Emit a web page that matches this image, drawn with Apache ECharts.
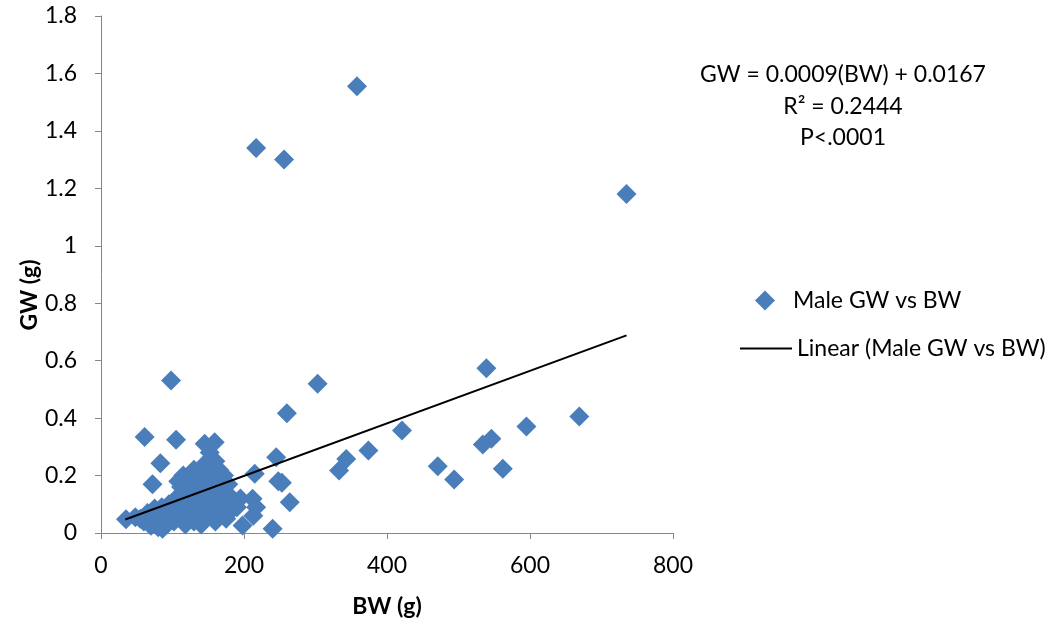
<!DOCTYPE html>
<html>
<head>
<meta charset="utf-8">
<script src="https://cdn.jsdelivr.net/npm/echarts@6/dist/echarts.min.js"></script>
<style>html,body{margin:0;padding:0;background:#fff}#c{width:1061px;height:626px}</style>
</head>
<body>
<div id="c"></div>
<script>
// Body weight (g) and gonad weight (g) per male
const bwValues = [
  35,48,55,60,65,68,72,75,78,80,85,88,90,92,95,98,100,102,105,108,110,112,115,118,120,122,125,127,130,130,
  133,135,138,140,142,145,145,148,150,152,153,155,158,160,162,163,165,167,170,172,175,178,180,183,185,190,195,
  115,108,128,86,70,118,140,160,175,
  98,61,105,83,72,145,159,303,260,245,215,248,253,264,212,240,198,217,213,333,
  539,669,595,546,534,421,374,343,471,494,562,358,217,256,735
];
const gwValues = [
  0.048,0.055,0.05,0.04,0.07,0.03,0.06,0.085,0.04,0.02,0.09,0.05,0.07,0.03,0.1,0.06,0.08,0.04,0.12,0.09,0.06,0.16,0.11,0.05,0.14,0.08,0.19,0.12,0.04,0.22,
  0.16,0.1,0.07,0.2,0.13,0.24,0.05,0.17,0.1,0.28,0.21,0.14,0.08,0.25,0.18,0.12,0.22,0.06,0.15,0.2,0.1,0.17,0.13,0.08,0.11,0.09,0.12,
  0.2,0.18,0.17,0.015,0.025,0.03,0.03,0.04,0.05,
  0.531,0.334,0.325,0.243,0.17,0.311,0.316,0.52,0.417,0.264,0.206,0.18,0.175,0.107,0.119,0.015,0.026,0.09,0.06,0.218,
  0.574,0.406,0.371,0.328,0.308,0.357,0.287,0.258,0.232,0.186,0.224,1.555,1.34,1.30,1.18
];
// Linear trend line end points (GW = 0.0009(BW) + 0.0167)
const trendBW = [34, 735];
const trendGW = [0.047, 0.688];
const xTicks = [0, 200, 400, 600, 800];
const yTicks = [0, 0.2, 0.4, 0.6, 0.8, 1, 1.2, 1.4, 1.6, 1.8];
const equationLines = ['GW = 0.0009(BW) + 0.0167', 'R\u00B2 = 0.2444', 'P<.0001'];
const seriesNames = ['Male GW vs BW', 'Linear (Male GW vs BW)'];

const FONT = 'Lato';
const FS = 23;
const scatterData = bwValues.map((x, i) => [x, gwValues[i]]);
const trendData = trendBW.map((x, i) => [x, trendGW[i]]);
const axisColor = '#868686';

const chart = echarts.init(document.getElementById('c'), null, {renderer: 'canvas'});
chart.setOption({
  backgroundColor: '#fff',
  animation: false,
  textStyle: {fontFamily: FONT},
  grid: {left: 101, right: 388, top: 16, bottom: 93},
  xAxis: {
    type: 'value', min: xTicks[0], max: xTicks[xTicks.length - 1], interval: 200,
    name: 'BW (g)', nameLocation: 'middle', nameGap: 62,
    nameTextStyle: {fontFamily: FONT, fontSize: FS, fontWeight: 'bold', color: '#000'},
    axisLine: {show: true, lineStyle: {color: axisColor, width: 1}},
    axisTick: {show: true, inside: false, length: 6, lineStyle: {color: axisColor}},
    axisLabel: {fontFamily: FONT, fontSize: FS, color: '#000', margin: 21},
    splitLine: {show: false}
  },
  yAxis: {
    type: 'value', min: yTicks[0], max: yTicks[yTicks.length - 1], interval: 0.2,
    axisLine: {show: true, lineStyle: {color: axisColor, width: 1}},
    axisTick: {show: true, inside: false, length: 6, lineStyle: {color: axisColor}},
    axisLabel: {fontFamily: FONT, fontSize: FS, color: '#000', margin: 24,
      formatter: v => String(Math.round(v * 10) / 10)},
    splitLine: {show: false}
  },
  legend: [
    {
      data: [{name: seriesNames[0], icon: 'diamond'}],
      left: 750, top: 284, itemWidth: 20, itemHeight: 20,
      textStyle: {fontFamily: FONT, fontSize: FS, color: '#000', padding: [0, 0, 0, 13]},
      selectedMode: false
    },
    {
      data: [{name: seriesNames[1], icon: 'rect'}],
      left: 735, top: 332, itemWidth: 52, itemHeight: 2,
      textStyle: {fontFamily: FONT, fontSize: FS, color: '#000'},
      selectedMode: false
    }
  ],
  graphic: [
    {type: 'text', x: 30, y: 295, rotation: Math.PI / 2,
      style: {text: 'GW (g)', fontFamily: FONT, fontSize: FS, fontWeight: 'bold', fill: '#000', align: 'center', verticalAlign: 'middle'}},
    {type: 'text', x: 843, y: 75, style: {text: equationLines[0], fontFamily: FONT, fontSize: FS, fill: '#000', align: 'center', verticalAlign: 'middle'}},
    {type: 'text', x: 843, y: 107, style: {text: equationLines[1], fontFamily: FONT, fontSize: FS, fill: '#000', align: 'center', verticalAlign: 'middle'}},
    {type: 'text', x: 843, y: 138, style: {text: equationLines[2], fontFamily: FONT, fontSize: FS, fill: '#000', align: 'center', verticalAlign: 'middle'}}
  ],
  series: [
    {
      name: seriesNames[0], type: 'scatter', data: scatterData,
      symbol: 'diamond', symbolSize: 20,
      itemStyle: {color: '#4a7ebb', opacity: 1}
    },
    {
      name: seriesNames[1], type: 'line', data: trendData,
      symbol: 'none', showSymbol: false,
      lineStyle: {color: '#000', width: 2},
      itemStyle: {color: '#000'}
    }
  ]
});
</script>
</body>
</html>
